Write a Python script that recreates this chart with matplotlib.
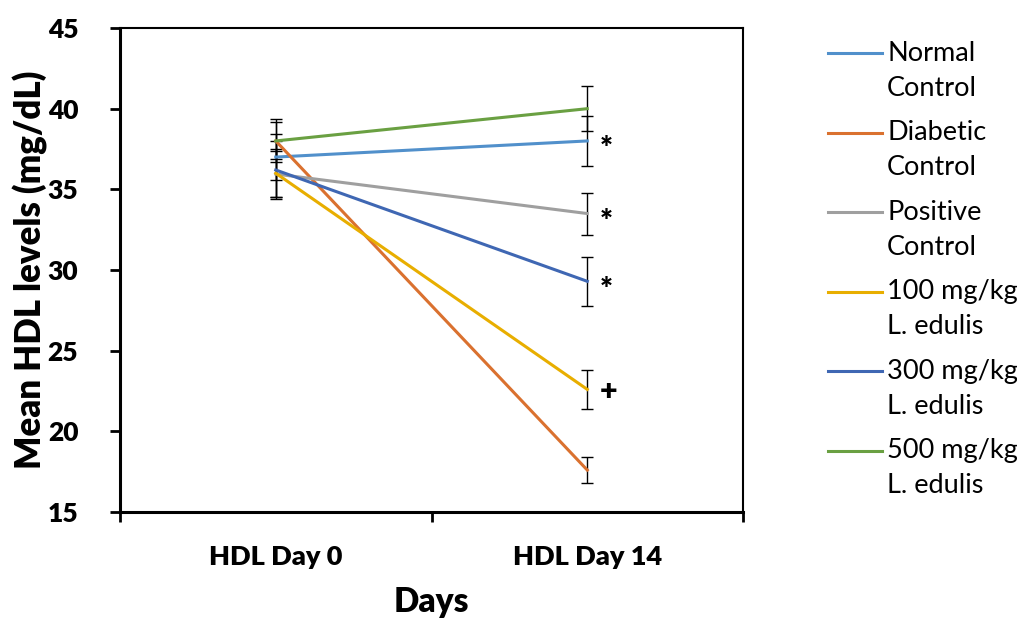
import numpy as np
import matplotlib.pyplot as plt
from matplotlib.lines import Line2D

plt.rcParams['font.family'] = ['Lato', 'DejaVu Sans']

days = ['HDL Day 0', 'HDL Day 14']
groups = ['Normal\nControl', 'Diabetic\nControl', 'Positive\nControl',
          '100 mg/kg\nL. edulis', '300 mg/kg\nL. edulis', '500 mg/kg\nL. edulis']
colors = ['#5190CB', '#DA712F', '#9F9F9F', '#E8AE00', '#3F67B3', '#6AA042']

day0 = [37.0, 38.0, 35.95, 36.0, 36.2, 38.0]
day14 = [38.0, 17.6, 33.5, 22.6, 29.3, 40.0]
err0 = [1.45, 1.33, 1.4, 1.5, 1.8, 1.15]
err14 = [1.55, 0.8, 1.3, 1.2, 1.5, 1.4]
marks = ['*', '', '*', '+', '*', '']

fig = plt.figure(figsize=(10.17, 6.21), dpi=100)
ax = fig.add_axes([0.118, 0.1755, 0.6126, 0.7794])

x = np.array([0.5, 1.5])
for i in range(len(groups)):
    ax.errorbar(x, [day0[i], day14[i]], yerr=[err0[i], err14[i]], fmt='none',
                ecolor='black', elinewidth=1, capsize=4.5, capthick=1, zorder=2)
for i in range(len(groups)):
    ax.plot(x, [day0[i], day14[i]], color=colors[i], linewidth=2.2, zorder=3)
    if marks[i]:
        dy = -6 if marks[i] == '*' else -1
        ax.annotate(marks[i], (1.5, day14[i]), xytext=(9, dy), textcoords='offset points',
                    ha='left', va='center', fontsize=22, fontweight='heavy')

ax.set_xlim(0, 2)
ax.set_ylim(15, 45)
ax.set_yticks(np.arange(15, 46, 5))
ax.set_xticks([0, 1, 2])
ax.set_xticklabels([])
ax.set_xticks(x, minor=True)
ax.set_xticklabels(days, minor=True, fontsize=19.5, fontweight='heavy')
ax.tick_params(axis='x', which='minor', length=0, pad=24)
ax.tick_params(axis='x', which='major', direction='out', length=7, width=2)
ax.tick_params(axis='y', direction='out', length=7, width=2, labelsize=19, pad=23)
for lab in ax.get_yticklabels():
    lab.set_fontweight('heavy')
for s in ['left', 'bottom']:
    ax.spines[s].set_linewidth(2.2)
for s in ['top', 'right']:
    ax.spines[s].set_linewidth(1.5)

ax.set_ylabel('Mean HDL levels (mg/dL)', fontsize=25, fontweight='heavy', labelpad=0)
ax.set_xlabel('Days', fontsize=24, fontweight='heavy', labelpad=12)

# legend: handle aligned with the first line of each two-line label
for i, g in enumerate(groups):
    first, second = g.split('\n')
    yy = (512 - 53 - 79.5 * i) / 484
    ax.add_line(Line2D([(828 - 120) / 623, (882 - 120) / 623], [yy, yy], color=colors[i],
                       linewidth=2.2, transform=ax.transAxes, clip_on=False))
    ax.text((887 - 120) / 623, yy, first, transform=ax.transAxes, fontsize=19.5,
            ha='left', va='center')
    ax.text((887 - 120) / 623, yy - 35 / 484, second, transform=ax.transAxes, fontsize=19.5,
            ha='left', va='center')

fig.savefig('out.png', dpi=100)
